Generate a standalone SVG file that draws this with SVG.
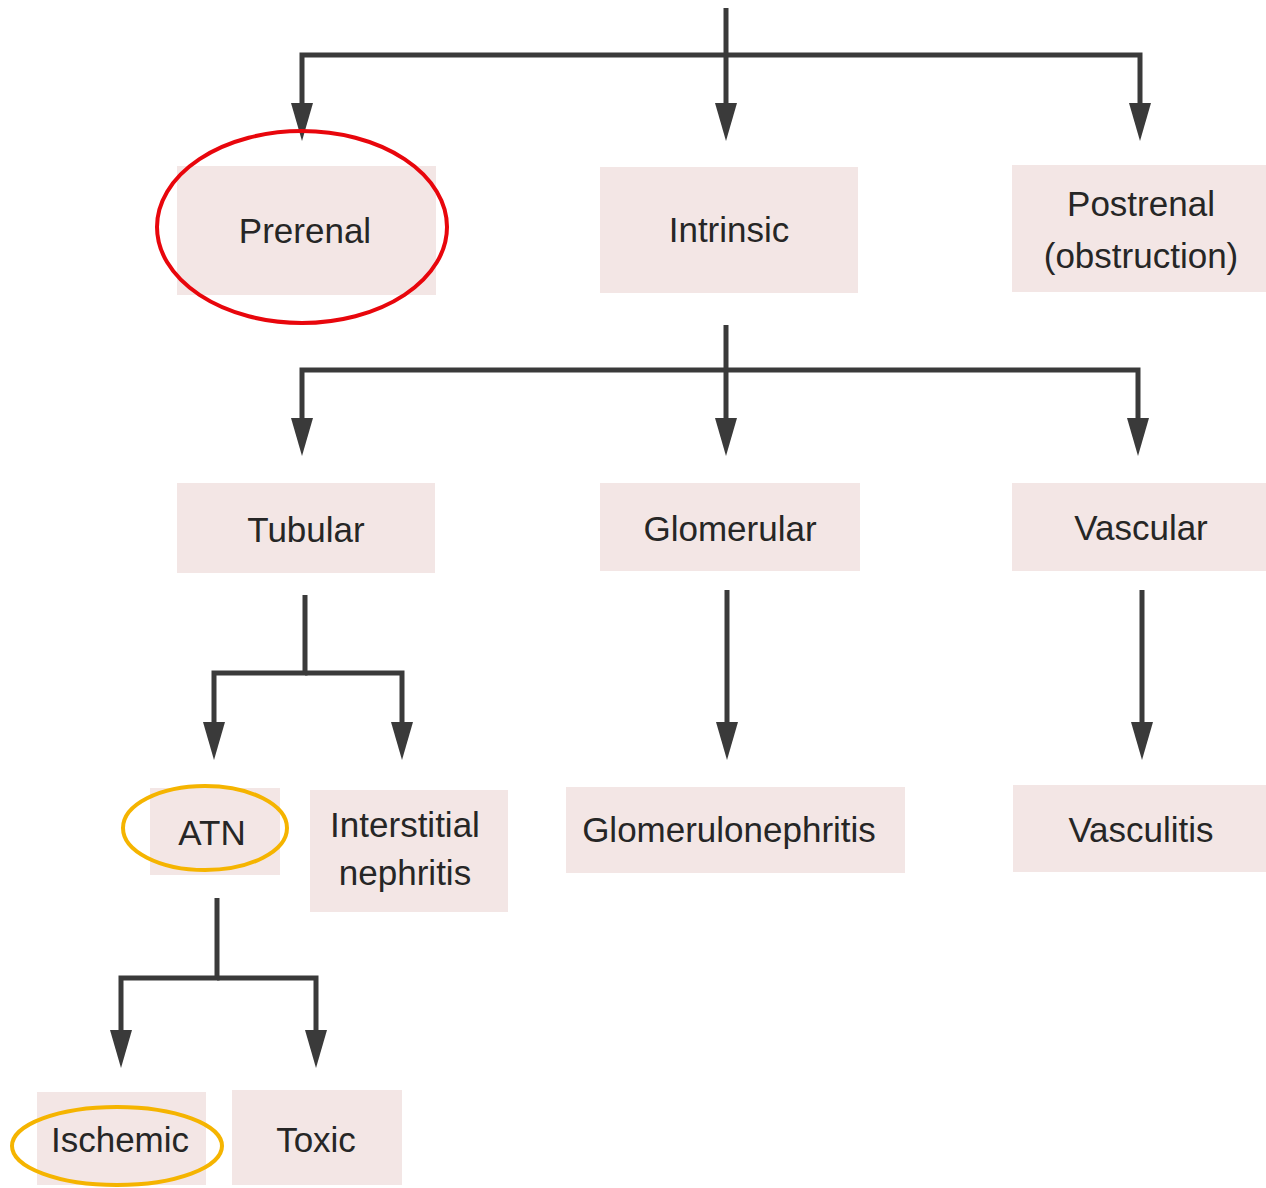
<svg xmlns="http://www.w3.org/2000/svg" width="1266" height="1188" viewBox="0 0 1266 1188">
  <style>
    .box { fill: #f3e6e5; }
    .lbl { font-family: "Liberation Sans", Arial, sans-serif; font-size: 35px; fill: #262626; text-anchor: middle; }
    .wire { fill: none; stroke: #3a3a3a; stroke-width: 5; stroke-linejoin: miter; marker-end: url(#head); }
    .ring-red { fill: none; stroke: #e8060c; stroke-width: 4; }
    .ring-amber { fill: none; stroke: #f5b400; stroke-width: 4; }
  </style>
  <defs>
    <marker id="head" markerUnits="userSpaceOnUse" viewBox="0 0 38 22" markerWidth="38" markerHeight="22" refX="0" refY="11" orient="auto">
      <path d="M0,0 L38,11 L0,22 Z" fill="#3a3a3a"/>
    </marker>
  </defs>
  <rect width="1266" height="1188" fill="#ffffff"/>

  <!-- level 1 -->
  <g id="prerenal">
    <rect class="box" x="177" y="166" width="259" height="129"/>
    <text class="lbl" x="305" y="243">Prerenal</text>
  </g>
  <g id="intrinsic">
    <rect class="box" x="600" y="167" width="258" height="126"/>
    <text class="lbl" x="729" y="242">Intrinsic</text>
  </g>
  <g id="postrenal">
    <rect class="box" x="1012" y="165" width="254" height="127"/>
    <text class="lbl" x="1141" y="216">Postrenal</text>
    <text class="lbl" x="1141" y="268">(obstruction)</text>
  </g>

  <!-- level 2 -->
  <g id="tubular">
    <rect class="box" x="177" y="483" width="258" height="90"/>
    <text class="lbl" x="306" y="542">Tubular</text>
  </g>
  <g id="glomerular">
    <rect class="box" x="600" y="483" width="260" height="88"/>
    <text class="lbl" x="730" y="541">Glomerular</text>
  </g>
  <g id="vascular">
    <rect class="box" x="1012" y="483" width="254" height="88"/>
    <text class="lbl" x="1141" y="540">Vascular</text>
  </g>

  <!-- level 3 -->
  <g id="atn">
    <rect class="box" x="150" y="788" width="130" height="87"/>
    <text class="lbl" x="212" y="845">ATN</text>
  </g>
  <g id="interstitial-nephritis">
    <rect class="box" x="310" y="790" width="198" height="122"/>
    <text class="lbl" x="405" y="837">Interstitial</text>
    <text class="lbl" x="405" y="885">nephritis</text>
  </g>
  <g id="glomerulonephritis">
    <rect class="box" x="566" y="787" width="339" height="86"/>
    <text class="lbl" x="729" y="842">Glomerulonephritis</text>
  </g>
  <g id="vasculitis">
    <rect class="box" x="1013" y="785" width="253" height="87"/>
    <text class="lbl" x="1141" y="842">Vasculitis</text>
  </g>

  <!-- level 4 -->
  <g id="ischemic">
    <rect class="box" x="37" y="1092" width="169" height="93"/>
    <text class="lbl" x="120" y="1152">Ischemic</text>
  </g>
  <g id="toxic">
    <rect class="box" x="232" y="1090" width="170" height="95"/>
    <text class="lbl" x="316" y="1152">Toxic</text>
  </g>

  <!-- connectors -->
  <g id="connectors">
    <path class="wire" d="M726,8 V103"/>
    <path class="wire" d="M726,55 H302 V103"/>
    <path class="wire" d="M726,55 H1140 V103"/>

    <path class="wire" d="M726,325 V418"/>
    <path class="wire" d="M726,370 H302 V418"/>
    <path class="wire" d="M726,370 H1138 V418"/>

    <path class="wire" d="M305,595 V673 H214 V722"/>
    <path class="wire" d="M305,673 H402 V722"/>
    <path class="wire" d="M727,590 V722"/>
    <path class="wire" d="M1142,590 V722"/>

    <path class="wire" d="M217,898 V978 H121 V1030"/>
    <path class="wire" d="M217,978 H316 V1030"/>
  </g>

  <!-- highlight rings -->
  <g id="highlights">
    <ellipse class="ring-red" cx="302" cy="227" rx="145" ry="96"/>
    <ellipse class="ring-amber" cx="205" cy="828" rx="82" ry="42"/>
    <ellipse class="ring-amber" cx="117" cy="1146" rx="105" ry="39"/>
  </g>
</svg>
